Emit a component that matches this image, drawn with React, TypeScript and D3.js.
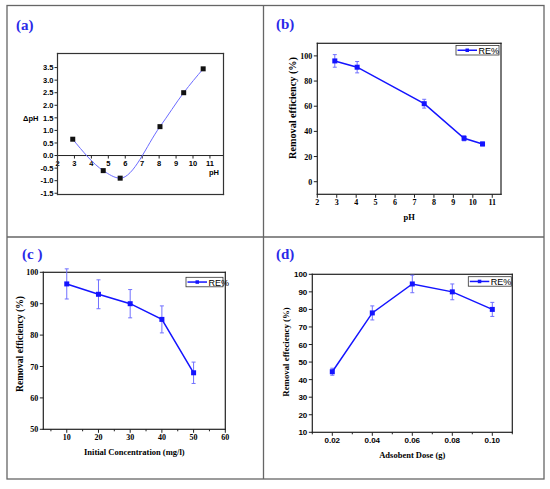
import React from 'react'
import * as d3 from 'd3'

// (a) point of zero charge
const phA = [2.9, 4.7, 5.7, 8.05, 9.45, 10.6]
const dPhA = [0.65, -0.6, -0.9, 1.15, 2.5, 3.45]

// (b) effect of pH
const phB = [2.9, 4.05, 7.5, 9.55, 10.5]
const reB = [96, 91, 62, 34.5, 30]
const errB = [5, 4.5, 3.5, 2, 1.5]

// (c) initial concentration
const concC = [10, 20, 30, 40, 50]
const reC = [96.3, 93, 90, 85, 68]
const errC = [4.8, 4.6, 4.5, 4.3, 3.4]

// (d) adsorbent dose
const doseD = [0.02, 0.04, 0.06, 0.08, 0.1]
const reD = [44.5, 78, 94.5, 90, 80]
const errD = [2, 4, 5, 4.5, 4]

const BLUE = '#1414ff'
const ERR = '#7070ff'
const FRAME = '#666'
const SERIF = '"Liberation Serif", "Times New Roman", serif'
const SANS = '"Liberation Sans", Arial, sans-serif'

type Box = { l: number; r: number; t: number; b: number }

type PanelProps = {
    xs: number[]; ys: number[]; errs: number[]
    xDom: [number, number]; yDom: [number, number]
    box: Box
    xTicks: number[]; yTicks: number[]
    xMinor?: number[]
    xFmt: (v: number) => string
    tickFont: string
    yTitle: string; yTitleX: number; yTitleY: number; yTitleSize: number
    xTitle: string; xTitleY: number
    legend: { x: number; y: number; w: number }
}

// frame drawn as four thin filled bars
const Frame = ({ b, color, w }: { b: Box; color: string; w: number }) => (
    <g fill={color} stroke="none">
        <rect x={b.l - w / 2} y={b.t - w / 2} width={b.r - b.l + w} height={w} />
        <rect x={b.l - w / 2} y={b.b - w / 2} width={b.r - b.l + w} height={w} />
        <rect x={b.l - w / 2} y={b.t - w / 2} width={w} height={b.b - b.t + w} />
        <rect x={b.r - w / 2} y={b.t - w / 2} width={w} height={b.b - b.t + w} />
    </g>
)

const Panel = (p: PanelProps) => {
    const x = d3.scaleLinear().domain(p.xDom).range([p.box.l, p.box.r])
    const y = d3.scaleLinear().domain(p.yDom).range([p.box.b, p.box.t])
    const line = d3.line<number>().x((_, i) => x(p.xs[i])).y(v => y(v))
    const cx = (p.box.l + p.box.r) / 2
    return (
        <g>
            <Frame b={p.box} color="#222" w={1.2} />
            {p.xTicks.map(t => (
                <g key={'x' + t}>
                    <line x1={x(t)} x2={x(t)} y1={p.box.b} y2={p.box.b + 3.5} stroke="#222" />
                    <text x={x(t)} y={p.box.b + 11} textAnchor="middle" fontSize={8} fontWeight="bold" fontFamily={p.tickFont}>{p.xFmt(t)}</text>
                </g>
            ))}
            {(p.xMinor || []).map(t => (
                <line key={'m' + t} x1={x(t)} x2={x(t)} y1={p.box.b} y2={p.box.b + 2} stroke="#222" />
            ))}
            {p.yTicks.map(t => (
                <g key={'y' + t}>
                    <line x1={p.box.l - 3.5} x2={p.box.l} y1={y(t)} y2={y(t)} stroke="#222" />
                    <text x={p.box.l - 5} y={y(t) + 3} textAnchor="end" fontSize={8} fontWeight="bold" fontFamily={p.tickFont}>{t}</text>
                </g>
            ))}
            <text transform={`translate(${p.yTitleX},${p.yTitleY}) rotate(-90)`} textAnchor="middle" fontSize={p.yTitleSize} fontWeight="bold" fontFamily={SERIF}>{p.yTitle}</text>
            <text x={cx} y={p.xTitleY} textAnchor="middle" fontSize={8.5} fontWeight="bold" fontFamily={SERIF}>{p.xTitle}</text>
            {p.xs.map((v, i) => (
                <g key={'e' + i} stroke={ERR} strokeWidth={1}>
                    <line x1={x(v)} x2={x(v)} y1={y(p.ys[i] - p.errs[i])} y2={y(p.ys[i] + p.errs[i])} />
                    <line x1={x(v) - 2} x2={x(v) + 2} y1={y(p.ys[i] - p.errs[i])} y2={y(p.ys[i] - p.errs[i])} />
                    <line x1={x(v) - 2} x2={x(v) + 2} y1={y(p.ys[i] + p.errs[i])} y2={y(p.ys[i] + p.errs[i])} />
                </g>
            ))}
            <path d={line(p.ys) || ''} fill="none" stroke={BLUE} strokeWidth={1.5} />
            {p.xs.map((v, i) => (
                <rect key={'p' + i} x={x(v) - 2.5} y={y(p.ys[i]) - 2.5} width={5} height={5} fill={BLUE} />
            ))}
            <rect x={p.legend.x} y={p.legend.y} width={p.legend.w} height={9.5} fill="#fff" stroke="#333" strokeWidth={0.8} />
            <line x1={p.legend.x + 1.5} x2={p.legend.x + 21} y1={p.legend.y + 4.75} y2={p.legend.y + 4.75} stroke={BLUE} strokeWidth={1.5} />
            <rect x={p.legend.x + 9.5} y={p.legend.y + 3} width={3.5} height={3.5} fill={BLUE} />
            <text x={p.legend.x + 22.5} y={p.legend.y + 8.2} fontSize={9} fontFamily={SANS}>RE%</text>
        </g>
    )
}

const boxA: Box = { l: 57.5, r: 223.5, t: 53.5, b: 194.5 }

const PanelA = () => {
    const x = d3.scaleLinear().domain([2, 11.8]).range([boxA.l, boxA.r])
    const y = d3.scaleLinear().domain([-1.55, 4.06]).range([boxA.b, boxA.t])
    const curve = d3.line<number>().x((_, i) => x(phA[i])).y(v => y(v)).curve(d3.curveMonotoneX)
    const xT = d3.range(2, 12)
    const yT = d3.range(-1.5, 3.51, 0.5)
    return (
        <g>
            <line x1={boxA.l} x2={boxA.r} y1={y(0)} y2={y(0)} stroke="#222" strokeWidth={1} />
            {xT.map(t => (
                <g key={'x' + t}>
                    <line x1={x(t)} x2={x(t)} y1={y(0)} y2={y(0) + 3} stroke="#222" />
                    <text x={x(t)} y={y(0) + 10} textAnchor="middle" fontSize={7.5} fontWeight="bold" fontFamily={SANS}>{t}</text>
                </g>
            ))}
            {yT.map(t => (
                <g key={'y' + t}>
                    <line x1={boxA.l - 3} x2={boxA.l} y1={y(t)} y2={y(t)} stroke="#222" />
                    <text x={boxA.l - 4} y={y(t) + 2.7} textAnchor="end" fontSize={7.5} fontWeight="bold" fontFamily={SANS}>{t.toFixed(1)}</text>
                </g>
            ))}
            <text x={23} y={121} fontSize={7.5} fontWeight="bold" fontFamily={SANS}>ΔpH</text>
            <text x={209} y={175} fontSize={7.5} fontWeight="bold" fontFamily={SANS}>pH</text>
            <path d={curve(dPhA) || ''} fill="none" stroke="#6b6bff" strokeWidth={1} />
            {phA.map((v, i) => (
                <rect key={i} x={x(v) - 2.5} y={y(dPhA[i]) - 2.5} width={5} height={5} fill="#111" />
            ))}
        </g>
    )
}

const label = (t: string, x: number, y: number) => (
    <text x={x} y={y} fontSize={15} fontWeight="bold" fill="#2a2ae8" fontFamily={SERIF}>{t}</text>
)

export default function App() {
    return (
        <div style={{ position: 'absolute', left: 0, top: 0 }}>
            <svg width={550} height={489} style={{ display: 'block', background: '#fff' }}>
                <rect x={7} y={5.5} width={537} height={473.5} fill="none" stroke={FRAME} strokeWidth={1.3} />
                <line x1={263.5} x2={263.5} y1={5.5} y2={479} stroke={FRAME} strokeWidth={1.3} />
                <line x1={7} x2={544} y1={237} y2={237} stroke={FRAME} strokeWidth={1.3} />
                {label('(a)', 16, 30)}
                {label('(b)', 276, 29)}
                {label('(c )', 22, 259)}
                {label('(d)', 276, 259)}
                <PanelA />
                <Panel xs={phB} ys={reB} errs={errB} xDom={[2, 11.45]} yDom={[-10, 110]}
                    box={{ l: 317.3, r: 501, t: 43.3, b: 194.3 }}
                    xTicks={d3.range(2, 12)} yTicks={d3.range(0, 101, 20)}
                    xFmt={v => String(v)} tickFont={SERIF}
                    yTitle="Removal efficiency (%)" yTitleX={296} yTitleY={108} yTitleSize={10.2}
                    xTitle="pH" xTitleY={220}
                    legend={{ x: 456, y: 45.5, w: 43 }} />
                <Panel xs={concC} ys={reC} errs={errC} xDom={[2.6, 60]} yDom={[50, 100]}
                    box={{ l: 43.3, r: 225.3, t: 272.3, b: 429.3 }}
                    xTicks={d3.range(10, 61, 10)} yTicks={d3.range(50, 101, 10)}
                    xMinor={d3.range(5, 60, 10)}
                    xFmt={v => String(v)} tickFont={SERIF}
                    yTitle="Removal efficiency (%)" yTitleX={23} yTitleY={344} yTitleSize={9.6}
                    xTitle="Initial Concentration (mg/l)" xTitleY={455}
                    legend={{ x: 186, y: 277.3, w: 37 }} />
                <Panel xs={doseD} ys={reD} errs={errD} xDom={[0.01, 0.11]} yDom={[10, 100]}
                    box={{ l: 312.3, r: 512.3, t: 274.3, b: 432.3 }}
                    xTicks={[0.02, 0.04, 0.06, 0.08, 0.1]} yTicks={d3.range(10, 101, 10)}
                    xMinor={[0.01, 0.03, 0.05, 0.07, 0.09, 0.11]}
                    xFmt={v => v.toFixed(2)} tickFont={SANS}
                    yTitle="Removal effeciency (%)" yTitleX={289} yTitleY={352} yTitleSize={8.8}
                    xTitle="Adsobent Dose (g)" xTitleY={458}
                    legend={{ x: 468.3, y: 276.7, w: 43 }} />
                <Frame b={boxA} color="#333" w={1.2} />
            </svg>
        </div>
    )
}
